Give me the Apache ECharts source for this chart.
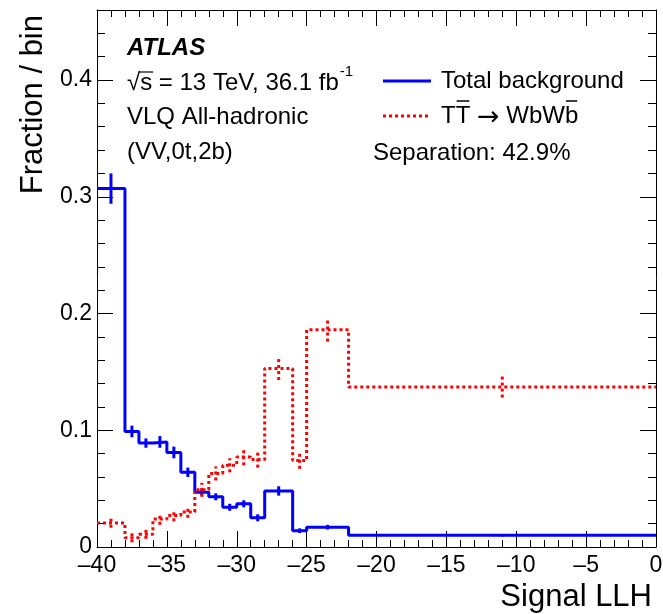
<!DOCTYPE html>
<html>
<head>
<meta charset="utf-8">
<script src="https://cdn.jsdelivr.net/npm/echarts@6/dist/echarts.min.js"></script>
<style>
html,body{margin:0;padding:0;background:#fff;}
#chart{width:663px;height:614px;}
</style>
</head>
<body>
<div id="chart"></div>
<script>
// Bin edges (Signal LLH)
const binEdges = [-40, -38, -37, -36, -35, -34, -33, -32, -31, -30, -29, -28, -26, -25, -22, 0];
// Total background (fraction / bin) and its uncertainty
const bkgValues = [0.307, 0.099, 0.089, 0.090, 0.081, 0.064, 0.047, 0.043, 0.034, 0.037, 0.025, 0.048, 0.014, 0.017, 0.010];
const bkgErrors = [0.013, 0.005, 0.004, 0.005, 0.005, 0.004, 0.003, 0.003, 0.003, 0.003, 0.003, 0.004, 0.002, 0.002, 0.001];
// Signal TTbar -> WbWb
const sigValues = [0.0205, 0.008, 0.011, 0.024, 0.027, 0.030, 0.049, 0.063, 0.070, 0.077, 0.075, 0.153, 0.074, 0.186, 0.137];
const sigErrors = [0.004, 0.004, 0.004, 0.005, 0.005, 0.005, 0.006, 0.006, 0.006, 0.007, 0.007, 0.010, 0.007, 0.010, 0.009];
// Axis ticks
const xTicks = [-40, -35, -30, -25, -20, -15, -10, -5, 0];
const yTicks = [0, 0.1, 0.2, 0.3, 0.4];

const FONT = '"Liberation Sans", Arial, Helvetica, sans-serif';
const BLUE = '#0000ff';
const RED = '#ff0000';

function stepData(vals) {
  const d = vals.map((v, i) => [binEdges[i], v]);
  d.push([binEdges[binEdges.length - 1], vals[vals.length - 1]]);
  return d;
}
function errData(vals, errs) {
  return vals.map((v, i) => [(binEdges[i] + binEdges[i + 1]) / 2, v, errs[i]]);
}
function errRender(color, dash) {
  return function (params, api) {
    const c = api.value(0), v = api.value(1), e = api.value(2);
    const p1 = api.coord([c, v - e]);
    const p2 = api.coord([c, v + e]);
    return {
      type: 'line',
      shape: { x1: p1[0], y1: p1[1], x2: p2[0], y2: p2[1] },
      style: { stroke: color, lineWidth: 3, lineDash: dash, lineCap: 'butt' }
    };
  };
}

const ctx = document.createElement('canvas').getContext('2d');
function tw(s, size, extra, fam) {
  ctx.font = (extra || '') + ' ' + size + 'px ' + (fam || FONT);
  return ctx.measureText(s).width;
}

const TS = 24; // annotation text size
const graphics = [];
function txt(x, y, s, size, opts) {
  graphics.push(Object.assign({
    type: 'text', x: x, y: y,
    style: Object.assign({ text: s, font: size + 'px ' + FONT, fill: '#000', align: 'left', verticalAlign: 'middle' }, (opts && opts.style) || {})
  }, (opts && opts.el) || {}));
}
function hline(x1, x2, y, color, width, dash) {
  graphics.push({ type: 'line', shape: { x1: x1, y1: y, x2: x2, y2: y }, style: { stroke: color, lineWidth: width, lineDash: dash || null } });
}

// ATLAS label block
txt(127, 48, 'ATLAS', TS, { style: { font: 'italic bold ' + TS + 'px ' + FONT } });
const sqrtW = tw('\u221A', TS);
const sW = tw('s', TS);
const line2 = '\u221As = 13 TeV, 36.1 fb';
txt(127, 83, line2, TS);
hline(127 + sqrtW - 1, 127 + sqrtW + sW + 1, 72, '#000', 1.2);
txt(127 + tw(line2, TS) + 1, 72, '-1', 15);
txt(127, 117, 'VLQ All-hadronic', TS);
txt(127, 152, '(VV,0t,2b)', TS);

// Legend
hline(383, 431, 81, BLUE, 3);
txt(441, 81, 'Total background', TS);
hline(383, 431, 116, RED, 3, [3, 3]);
const LX = 441;
const tW = tw('T', TS);
const spW = tw(' ', TS);
txt(LX, 116, 'TT', TS);
hline(LX + tW + 1, LX + 2 * tW - 1, 101, '#000', 1.5);
const ARROW_FONT = '"DejaVu Sans", sans-serif';
const arrowX = LX + 2 * tW + spW;
txt(arrowX, 118, '\u2192', 27, { style: { font: '27px ' + ARROW_FONT } });
const arrowW = tw('\u2192', 27, '', ARROW_FONT);
const wbX = arrowX + arrowW + spW;
txt(wbX, 116, 'WbWb', TS);
const wbW = tw('WbWb', TS);
const bW = tw('b', TS);
hline(wbX + wbW - bW + 1, wbX + wbW - 1, 101, '#000', 1.5);
txt(373, 153, 'Separation: 42.9%', TS);

// Axis titles
txt(652, 597, 'Signal LLH', 31, { style: { align: 'right' } });
txt(33, 15, 'Fraction / bin', 31, { style: { align: 'right' }, el: { rotation: Math.PI / 2 } });

const axisLineStyle = { color: '#000', width: 1 };
function xAxisDef(pos, labels) {
  return {
    type: 'value', position: pos, min: xTicks[0], max: xTicks[xTicks.length - 1],
    interval: xTicks[1] - xTicks[0],
    axisLine: { show: true, onZero: false, lineStyle: axisLineStyle },
    axisTick: { show: true, inside: true, length: 16, lineStyle: axisLineStyle },
    minorTick: { show: true, splitNumber: 5, length: 7, lineStyle: axisLineStyle },
    splitLine: { show: false },
    axisLabel: {
      show: labels, margin: 7, fontSize: 23, color: '#000', fontFamily: FONT,
      formatter: v => String(v).replace('-', '\u2013'), hideOverlap: false
    }
  };
}
function yAxisDef(pos, major, labels) {
  return {
    type: 'value', position: pos, min: 0, max: 0.46,
    interval: major ? yTicks[1] - yTicks[0] : 0.02,
    axisLine: { show: major, onZero: false, lineStyle: axisLineStyle },
    axisTick: { show: true, inside: true, length: major ? 16 : 8, lineStyle: axisLineStyle },
    splitLine: { show: false },
    axisLabel: {
      show: labels, margin: 5, fontSize: 23, color: '#000', fontFamily: FONT, showMaxLabel: false,
      formatter: v => {
        const k = yTicks.find(t => Math.abs(t - v) < 1e-9);
        return k === undefined ? '' : (k === 0 ? '0' : k.toFixed(1));
      }
    }
  };
}

const chart = echarts.init(document.getElementById('chart'), null, { renderer: 'canvas' });
chart.setOption({
  animation: false,
  backgroundColor: '#fff',
  grid: { left: 97, right: 7, top: 10, bottom: 67, containLabel: false, outerBoundsMode: 'none' },
  xAxis: [xAxisDef('bottom', true), xAxisDef('top', false)],
  yAxis: [yAxisDef('left', true, true), yAxisDef('left', false, false), yAxisDef('right', true, false), yAxisDef('right', false, false)],
  series: [
    {
      name: 'Total background', type: 'line', step: 'end', data: stepData(bkgValues),
      symbol: 'none', lineStyle: { color: BLUE, width: 3 }, z: 3
    },
    {
      type: 'custom', data: errData(bkgValues, bkgErrors), renderItem: errRender(BLUE, null), z: 3
    },
    {
      name: 'TTbar', type: 'line', step: 'end', data: stepData(sigValues),
      symbol: 'none', lineStyle: { color: RED, width: 3, type: [3, 3] }, z: 4
    },
    {
      type: 'custom', data: errData(sigValues, sigErrors), renderItem: errRender(RED, [3, 3]), z: 4
    }
  ],
  graphic: graphics
});
</script>
</body>
</html>
